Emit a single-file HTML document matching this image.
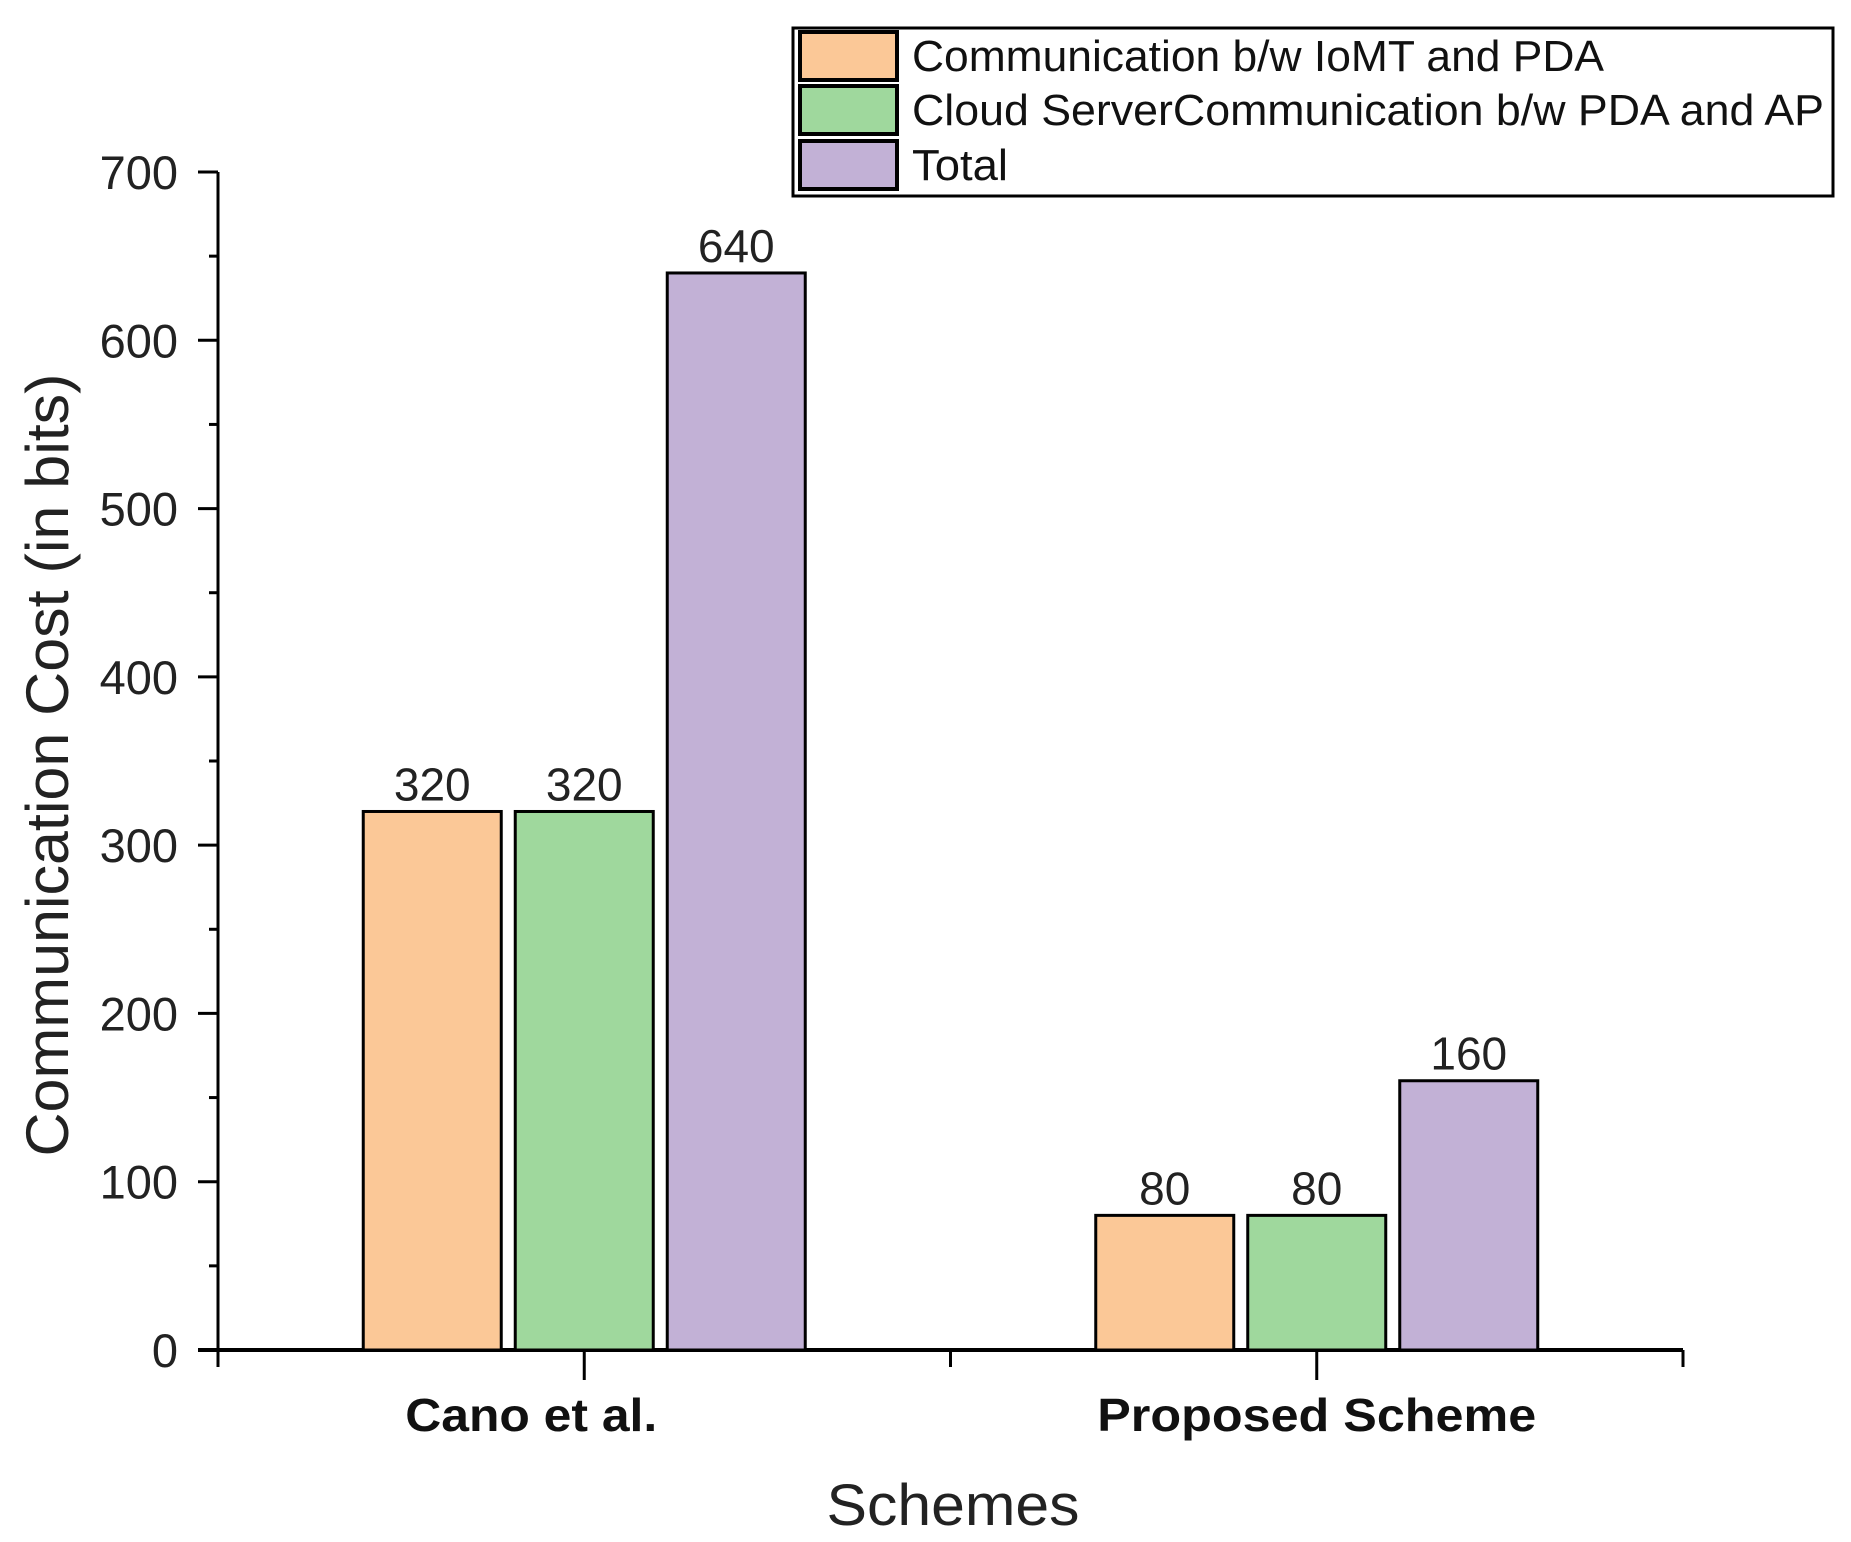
<!DOCTYPE html>
<html><head><meta charset="utf-8"><style>
html,body{margin:0;padding:0;background:#fff;}
svg{display:block;font-family:"Liberation Sans",Arial,sans-serif;}
</style></head><body>
<svg id="chart" width="1851" height="1542" viewBox="0 0 1851 1542" xmlns="http://www.w3.org/2000/svg">
<g id="axes"></g>
<g id="bars"></g>
<g id="legend"></g>
<text transform="translate(68,765) rotate(-90)" text-anchor="middle" font-size="60" fill="#222" textLength="783" lengthAdjust="spacingAndGlyphs">Communication Cost (in bits)</text>
<text x="953" y="1525" text-anchor="middle" font-size="58" fill="#222" textLength="253" lengthAdjust="spacingAndGlyphs">Schemes</text>
</svg>
<script>
const categories = ["Cano et al.", "Proposed Scheme"];
const seriesNames = ["Communication b/w IoMT and PDA", "Cloud ServerCommunication b/w PDA and AP", "Total"];
const iomtPda = [320, 80];
const pdaAp = [320, 80];
const total = [640, 160];
const yTicks = [0, 100, 200, 300, 400, 500, 600, 700];

const NS = "http://www.w3.org/2000/svg";
const colors = ["#FBC897", "#9FD89D", "#C2B1D6"];
const series = [iomtPda, pdaAp, total];
const x0 = 218, x1 = 1683, yTop = 172, yZero = 1350, yMax = 700;
function yScale(v){ return yZero - (v / yMax) * (yZero - yTop); }
function xCenter(i){ return x0 + (x1 - x0) * (i + 0.5) / categories.length; }
const barW = 138, step = 152;
function mk(tag, attrs, parent){ const e = document.createElementNS(NS, tag); for (const k in attrs) e.setAttribute(k, attrs[k]); parent.appendChild(e); return e; }

const axes = document.getElementById('axes');
const bars = document.getElementById('bars');
const legend = document.getElementById('legend');

yTicks.forEach(t => {
  const y = yScale(t);
  const tk = mk('line', {x1: 198, x2: x0, y1: y, y2: y, stroke: '#000', 'stroke-width': 3}, axes);
  
  
  const lb = mk('text', {x: 178, y: y + 17, 'text-anchor': 'end', 'font-size': 47, fill: '#222'}, axes);
  lb.textContent = t;
  
  
  if (t < yMax) {
    const m = mk('line', {x1: 209, x2: x0, y1: yScale(t + 50), y2: yScale(t + 50), stroke: '#000', 'stroke-width': 3}, axes);
    
    
  }
});
[0, 1, 2].forEach(k => {
  const x = x0 + (x1 - x0) * k / 2;
  const t = mk('line', {x1: x, x2: x, y1: yZero, y2: yZero + 17, stroke: '#000', 'stroke-width': 3}, axes);
  
  
});
categories.forEach((c, i) => {
  const x = xCenter(i);
  const t = mk('line', {x1: x, x2: x, y1: yZero, y2: yZero + 30, stroke: '#000', 'stroke-width': 3}, axes);
  
  
  const lb = mk('text', {x: x - (i === 0 ? 53 : 0), y: 1431, 'text-anchor': 'middle', 'font-size': 46, 'font-weight': 'bold', fill: '#111', textLength: i === 0 ? 252 : 439, lengthAdjust: 'spacingAndGlyphs'}, axes);
  lb.textContent = c;
  
  
});
const ya = mk('line', {x1: x0, x2: x0, y1: yTop, y2: yZero + 2, stroke: '#000', 'stroke-width': 3}, axes);



categories.forEach((c, i) => {
  series.forEach((s, j) => {
    const cx = xCenter(i) + (j - 1) * step;
    const y = yScale(s[i]);
    const r = mk('rect', {x: cx - barW / 2, y: y, width: barW, height: yZero - y, fill: colors[j], stroke: '#000', 'stroke-width': 3}, bars);
    
    
    const v = mk('text', {x: cx, y: y - 11, 'text-anchor': 'middle', 'font-size': 46, fill: '#222'}, bars);
    v.textContent = s[i];
    
    
  });
});
const xa = mk('line', {x1: 198, x2: x1, y1: yZero, y2: yZero, stroke: '#000', 'stroke-width': 4}, axes);



const box = mk('rect', {x: 793, y: 28, width: 1040, height: 168, fill: '#fff', stroke: '#000', 'stroke-width': 3}, legend);


const swY = [32, 86, 141];
const txtBase = [71, 125, 180];
const txtLen = [692, 912, 96];
seriesNames.forEach((n, j) => {
  const sw = mk('rect', {x: 800, y: swY[j], width: 97, height: 48, fill: colors[j], stroke: '#000', 'stroke-width': 4}, legend);
  
  
  const t = mk('text', {x: 912, y: txtBase[j], 'font-size': 44, fill: '#111', textLength: txtLen[j], lengthAdjust: 'spacingAndGlyphs'}, legend);
  t.textContent = n;
  
  
});
</script>
</body></html>
